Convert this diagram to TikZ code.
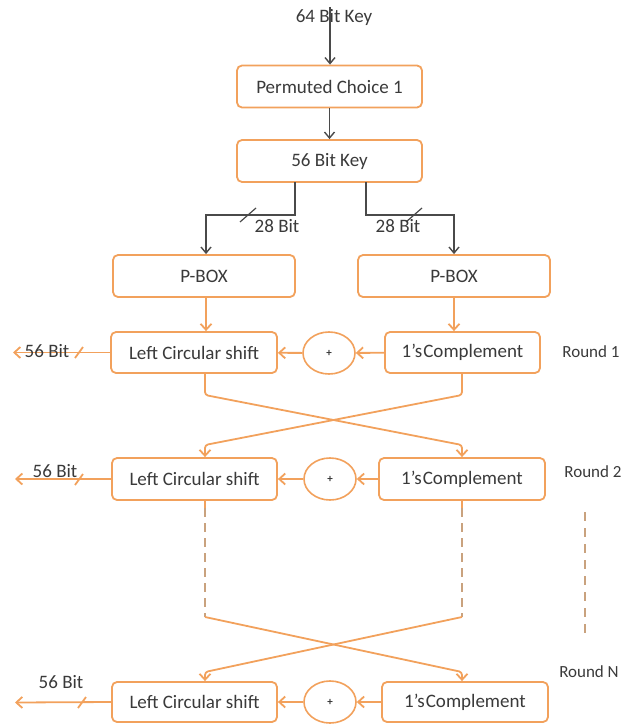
\documentclass[tikz,border=0pt]{standalone}
\usepackage{fontspec}
\setmainfont{Carlito}
\usetikzlibrary{arrows.meta,shapes.geometric,calc}
\definecolor{org}{HTML}{F2A15C}
\definecolor{dsh}{HTML}{C9A27E}
\definecolor{ink}{HTML}{3A3A3A}
\definecolor{lnk}{HTML}{4A4A4A}
\tikzset{
  box/.style={draw=org, line width=1.8pt, rounded corners=5pt, fill=white, text=ink,
    inner sep=0pt, font=\fontsize{19}{22}\selectfont},
  addc/.style={draw=org, line width=1.6pt, ellipse, minimum width=52pt, minimum height=42pt,
    inner sep=0pt, fill=white, text=ink, font=\fontsize{11}{12}\selectfont\bfseries},
  lbl/.style={text=ink, inner sep=0pt, font=\fontsize{19}{22}\selectfont},
  rlbl/.style={text=ink, inner sep=0pt, font=\fontsize{17}{20}\selectfont},
  blk/.style={draw=lnk, line width=1.2pt, -{Straight Barb[length=6pt,width=10pt,line width=1.4pt]}},
  blkl/.style={draw=lnk, line width=1.2pt},
  ora/.style={draw=org, line width=1.8pt, -{Straight Barb[length=6pt,width=11pt,line width=1.8pt]}},
  oral/.style={draw=org, line width=1.8pt},
  dsl/.style={draw=dsh, line width=1.8pt, dash pattern=on 9pt off 6pt},
}
\begin{document}
\begin{tikzpicture}[x=1pt,y=-1pt]
\useasboundingbox (0,0) rectangle (629,725);
\coordinate (xl) at (205,0);
\coordinate (xr) at (462,0);
\coordinate (xpl) at (206,0);
% top
\node[lbl] (key64) at (334,17) {64 Bit Key};
\coordinate (ktop) at (330,7);
\node[box, minimum width=185pt, minimum height=42pt] (pc1) at (329.5,86.5) {Permuted Choice 1};
\node[box, minimum width=185pt, minimum height=42pt] (k56) at (329.5,161) {56 Bit Key};
\node[box, minimum width=182pt, minimum height=42pt] (pbL) at (204,276) {P-BOX};
\node[box, minimum width=192pt, minimum height=42pt] (pbR) at (454,276) {P-BOX};
\draw[blk] (ktop) -- (ktop |- pc1.north);
\draw[blk] (pc1) -- (k56);
% branches
\coordinate (bl0) at (295,182);
\coordinate (bl1) at (295,215);
\coordinate (bl2) at (206,215);
\coordinate (br0) at (366,182);
\coordinate (br1) at (366,215);
\coordinate (br2) at (454,215);
\draw[blk] (bl0) -- (bl1) -- (bl2) -- (bl2 |- pbL.north);
\draw[blk] (br0) -- (br1) -- (br2) -- (br2 |- pbR.north);
\coordinate (sl1) at (248,215);
\coordinate (sl2) at (414,215);
\draw[blkl] ($(sl1)+(-8,7)$) -- ($(sl1)+(8,-7)$);
\draw[blkl] ($(sl2)+(-8,7)$) -- ($(sl2)+(8,-7)$);
\node[lbl] (b28l) at (277,226) {28 Bit};
\node[lbl] (b28r) at (398,226) {28 Bit};
% round 1
\node[box, minimum width=166pt, minimum height=41pt] (lcs1) at (194,352.5) {Left Circular shift};
\node[addc] (add1) at (329,353) {+};
\node[box, minimum width=155pt, minimum height=41pt] (cmp1) at (462.5,352.5) {1’s\hspace{1pt}Complement};
\node[rlbl] (r1) at (591,352) {Round 1};
\draw[ora] (xpl |- pbL.south) -- (xpl |- lcs1.north);
\draw[ora] (pbR.south) -- (pbR.south |- cmp1.north);
\draw[ora] (cmp1) -- (add1);
\draw[ora] (add1) -- (lcs1);
\coordinate (o1) at (13,352.5);
\draw[ora] (lcs1.west) -- (o1);
\draw[oral] (75,358) -- (83,347);
\node[lbl] (ob1) at (47,351) {56 Bit};
% round 2
\node[box, minimum width=165pt, minimum height=42pt] (lcs2) at (194.5,479) {Left Circular shift};
\node[addc] (add2) at (330,479) {+};
\node[box, minimum width=166pt, minimum height=42pt] (cmp2) at (462,479) {1’s\hspace{1pt}Complement};
\node[rlbl] (r2) at (593,472) {Round 2};
\draw[ora] (cmp2) -- (add2);
\draw[ora] (add2) -- (lcs2);
\coordinate (o2) at (15,479);
\draw[ora] (lcs2.west) -- (o2);
\draw[oral] (75,485) -- (83,474);
\node[lbl] (ob2) at (55,471) {56 Bit};
% crossing 1 -> 2
\coordinate (c1a) at (205,395);
\coordinate (c1b) at (462,445);
\coordinate (c2a) at (462,395);
\coordinate (c2b) at (205,445);
\draw[ora, rounded corners=3pt] (xl |- lcs1.south) -- (c1a) -- (c1b) -- (xr |- cmp2.north);
\draw[ora, rounded corners=3pt] (xr |- cmp1.south) -- (c2a) -- (c2b) -- (xl |- lcs2.north);
% round N
\node[box, minimum width=165pt, minimum height=40pt] (lcsN) at (194.5,702) {Left Circular shift};
\node[addc] (addN) at (330,702) {+};
\node[box, minimum width=166pt, minimum height=40pt] (cmpN) at (465,702) {1’s\hspace{1pt}Complement};
\node[rlbl] (rN) at (589,672) {Round N};
\draw[ora] (cmpN) -- (addN);
\draw[ora] (addN) -- (lcsN);
\coordinate (oN) at (15,702.5);
\draw[ora] (lcsN.west) -- (oN);
\draw[oral] (78,708) -- (86,697);
\node[lbl] (obN) at (61,682) {56 Bit};
% dashed continuation
\coordinate (d1a) at (205,617);
\coordinate (d1b) at (462,672);
\coordinate (d2a) at (462,617);
\coordinate (d2b) at (205,672);
\coordinate (d1s) at (205,508);
\coordinate (d2s) at (462,508);
\draw[oral] (xl |- lcs2.south) -- (d1s);
\draw[oral] (xr |- cmp2.south) -- (d2s);
\draw[dsl] (d1s) -- (d1a);
\draw[dsl] (d2s) -- (d2a);
\draw[ora, rounded corners=3pt] (d1a) -- (d1b) -- (xr |- cmpN.north);
\draw[ora, rounded corners=3pt] (d2a) -- (d2b) -- (xl |- lcsN.north);
% right dots
\coordinate (v1) at (585,512);
\coordinate (v2) at (585,633);
\draw[dsl, dash pattern=on 9pt off 7pt] (v1) -- (v2);
\end{tikzpicture}
\end{document}
